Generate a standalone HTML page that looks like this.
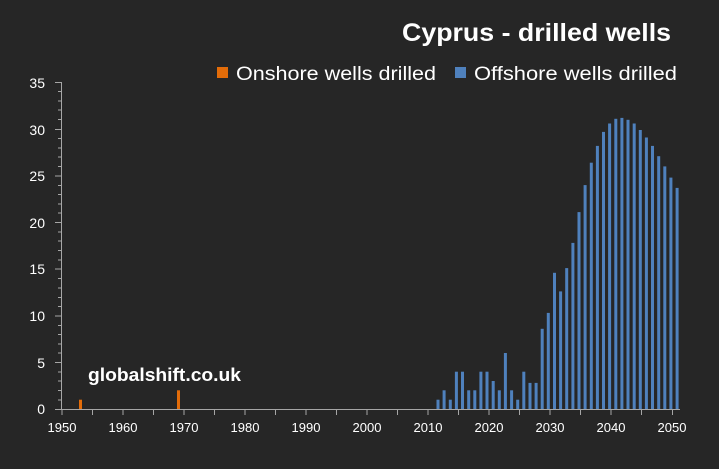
<!DOCTYPE html>
<html><head><meta charset="utf-8"><style>
html,body{margin:0;padding:0;background:#262626;}
svg{display:block;font-family:"Liberation Sans",sans-serif;}
</style></head><body>
<svg width="719" height="469" viewBox="0 0 719 469" xmlns="http://www.w3.org/2000/svg">
<rect width="719" height="469" fill="#262626"/>
<text x="671" y="41" text-anchor="end" font-size="25" font-weight="bold" fill="#fff" textLength="269" lengthAdjust="spacingAndGlyphs">Cyprus - drilled wells</text>
<rect x="217" y="67" width="11" height="11" fill="#e36c09"/>
<text x="236" y="80" font-size="19" fill="#fff" textLength="200" lengthAdjust="spacingAndGlyphs">Onshore wells drilled</text>
<rect x="455" y="67" width="11" height="11" fill="#4f81bd"/>
<text x="474" y="80" font-size="19" fill="#fff" textLength="203" lengthAdjust="spacingAndGlyphs">Offshore wells drilled</text>
<text x="88" y="381" font-size="18" font-weight="bold" fill="#fff" textLength="153" lengthAdjust="spacingAndGlyphs">globalshift.co.uk</text>
<g stroke="#a6a6a6" stroke-width="1">
<line x1="61.5" y1="82" x2="61.5" y2="409"/>
<line x1="55" y1="409.5" x2="680" y2="409.5"/>
<path d="M55 82.5h7M55 129.5h7M55 176h7M55 222.5h7M55 269h7M55 316h7M55 362.5h7"/>
<path d="M58 91.5h4M58 101h4M58 110h4M58 119.5h4M58 138.5h4M58 148h4M58 157h4M58 166.5h4M58 185.5h4M58 194.5h4M58 204h4M58 213h4M58 232h4M58 241h4M58 250.5h4M58 260h4M58 278.5h4M58 288h4M58 297.5h4M58 306.5h4M58 325.5h4M58 334.5h4M58 344h4M58 353h4M58 372h4M58 381h4M58 390.5h4M58 400h4"/>
<path d="M62 409v6M92.5 409v6M123 409v6M153.5 409v6M184 409v6M214.5 409v6M245 409v6M275.5 409v6M306 409v6M336.5 409v6M367 409v6M397.5 409v6M428 409v6M458.5 409v6M489 409v6M519.5 409v6M550 409v6M580.5 409v6M611 409v6M641.5 409v6M672.5 409v6"/>
</g>
<g font-size="14" fill="#fff" text-anchor="end">
<text x="45" y="88">35</text><text x="45" y="135">30</text><text x="45" y="181">25</text><text x="45" y="228">20</text><text x="45" y="274">15</text><text x="45" y="321">10</text><text x="45" y="368">5</text><text x="45" y="414">0</text>
</g>
<g font-size="13" fill="#fff" text-anchor="middle">
<text x="62" y="432">1950</text><text x="123" y="432">1960</text><text x="184" y="432">1970</text><text x="245" y="432">1980</text><text x="306" y="432">1990</text><text x="367" y="432">2000</text><text x="428" y="432">2010</text><text x="489" y="432">2020</text><text x="550" y="432">2030</text><text x="611" y="432">2040</text><text x="672" y="432">2050</text>
</g>
<g fill="#e36c09">
<rect x="79" y="399.7" width="3" height="9.3"/>
<rect x="177" y="390.3" width="3" height="18.7"/>
</g>
<g fill="#4f81bd">
<rect x="436.5" y="399.7" width="3" height="9.3"/>
<rect x="442.6" y="390.3" width="3" height="18.7"/>
<rect x="448.8" y="399.7" width="3" height="9.3"/>
<rect x="454.9" y="371.7" width="3" height="37.3"/>
<rect x="461.0" y="371.7" width="3" height="37.3"/>
<rect x="467.2" y="390.3" width="3" height="18.7"/>
<rect x="473.3" y="390.3" width="3" height="18.7"/>
<rect x="479.4" y="371.7" width="3" height="37.3"/>
<rect x="485.5" y="371.7" width="3" height="37.3"/>
<rect x="491.7" y="381" width="3" height="28"/>
<rect x="497.8" y="390.3" width="3" height="18.7"/>
<rect x="503.9" y="353" width="3" height="56"/>
<rect x="510.1" y="390.3" width="3" height="18.7"/>
<rect x="516.2" y="399.7" width="3" height="9.3"/>
<rect x="522.3" y="371.7" width="3" height="37.3"/>
<rect x="528.5" y="382.9" width="3" height="26.1"/>
<rect x="534.6" y="382.9" width="3" height="26.1"/>
<rect x="540.7" y="328.8" width="3" height="80.2"/>
<rect x="546.8" y="312.9" width="3" height="96.1"/>
<rect x="553.0" y="272.8" width="3" height="136.2"/>
<rect x="559.1" y="291.4" width="3" height="117.6"/>
<rect x="565.2" y="268.1" width="3" height="140.9"/>
<rect x="571.4" y="242.9" width="3" height="166.1"/>
<rect x="577.5" y="212.1" width="3" height="196.9"/>
<rect x="583.6" y="185.1" width="3" height="223.9"/>
<rect x="589.8" y="162.7" width="3" height="246.3"/>
<rect x="595.9" y="145.9" width="3" height="263.1"/>
<rect x="602.0" y="131.9" width="3" height="277.1"/>
<rect x="608.1" y="123.5" width="3" height="285.5"/>
<rect x="614.3" y="118.8" width="3" height="290.2"/>
<rect x="620.4" y="117.9" width="3" height="291.1"/>
<rect x="626.5" y="119.8" width="3" height="289.2"/>
<rect x="632.7" y="123.5" width="3" height="285.5"/>
<rect x="638.8" y="130" width="3" height="279"/>
<rect x="644.9" y="137.5" width="3" height="271.5"/>
<rect x="651.0" y="145.9" width="3" height="263.1"/>
<rect x="657.2" y="156.2" width="3" height="252.8"/>
<rect x="663.3" y="166.4" width="3" height="242.6"/>
<rect x="669.4" y="177.6" width="3" height="231.4"/>
<rect x="675.6" y="187.9" width="3" height="221.1"/>
</g>
</svg>
</body></html>
